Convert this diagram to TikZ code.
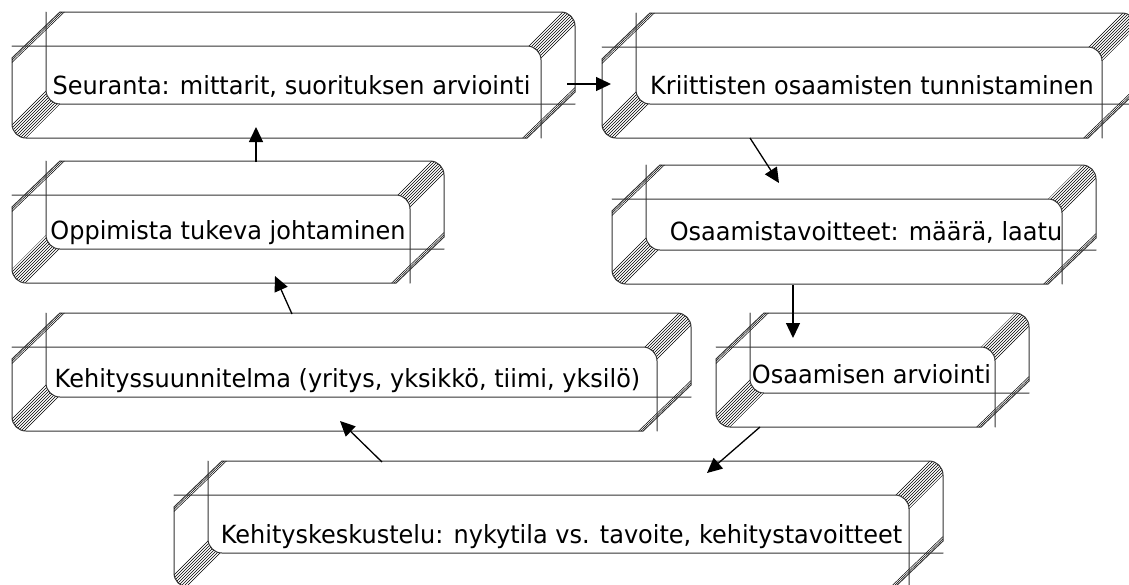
\documentclass[tikz,border=0pt]{standalone}
\usepackage{fontspec}
\setmainfont{DejaVu Sans}[FakeStretch=0.96]
\usetikzlibrary{calc,fit,patterns,arrows.meta}
\tikzset{
  edge/.style={draw=black!80, line width=1pt, line cap=round, line join=round},
  hatch/.style={pattern=north east lines, pattern color=black},
  area/.style={inner sep=0pt, outer sep=0pt, draw=none},
  lbl/.style={anchor=base, inner sep=0pt, font=\fontsize{25}{30}\selectfont, text=black},
  arr/.style={draw=black, line width=1.3pt, -{Triangle[length=15pt,width=14pt]}},
  chline/.style={draw=black, line width=0.5pt},
}
\newcommand{\bevel}[7]{%
  \node[area, fit={(#2,#3) (#4,#5)}] (#1) {};
  \fill[hatch] ({#4-14},{#3}) .. controls ({#4-6.3},{#3}) and ({#4},{#3+6.3}) .. ({#4},{#3+14})
     -- ({#4+34},{#3-20}) .. controls ({#4+34},{#3-27.7}) and ({#4+27.7},{#3-34}) .. ({#4+20},{#3-34}) -- cycle;
  \fill[hatch] ({#2},{#5-14}) .. controls ({#2},{#5-6.3}) and ({#2+6.3},{#5}) .. ({#2+14},{#5})
     -- ({#2-20},{#5+34}) .. controls ({#2-27.7},{#5+34}) and ({#2-34},{#5+27.7}) .. ({#2-34},{#5+20}) -- cycle;
  \draw[edge, rounded corners=14pt] ({#2+14},{#3-34}) -- ({#4+34},{#3-34}) -- ({#4+34},{#5-12});
  \draw[edge] ({#4+34},{#5-12}) -- ({#4-14},{#5+34});
  \draw[edge, rounded corners=14pt] ({#4-14},{#5+34}) -- ({#2-34},{#5+34}) -- ({#2-34},{#3+12});
  \draw[edge] ({#2-34},{#3+12}) -- ({#2+14},{#3-34});
  \draw[chline] ({#2-34},{#3+14.2}) -- ({#2+16.2},{#3-34});
  \draw[chline] ({#2-34},{#3+16.4}) -- ({#2+18.4},{#3-34});
  \draw[chline] ({#4+34},{#5-14.2}) -- ({#4-16.2},{#5+34});
  \draw[chline] ({#4+34},{#5-16.4}) -- ({#4-18.4},{#5+34});
  \draw[edge, rounded corners=14pt] ({#2-34},{#3}) -- ({#4},{#3}) -- ({#4},{#5+34});
  \draw[edge, rounded corners=14pt] ({#2},{#3-34}) -- ({#2},{#5}) -- ({#4+34},{#5});
  \node[lbl] (#1t) at ({(#2+#4)/2+#7},{#5-10}) {#6};
}
\begin{document}
\begin{tikzpicture}[x=1pt,y=-1pt]
\path[use as bounding box] (0,0) rectangle (1129,584);
\fill[white] (0,0) rectangle (1129,584);
\clip (0,0) rectangle (1129,584);
\bevel{A}{46}{46}{541}{104}{Seuranta: mittarit, suorituksen arviointi}{-2}
\bevel{B}{636}{47}{1102}{104}{Kriittisten osaamisten tunnistaminen}{3}
\bevel{C}{646}{199}{1062}{250}{Osaamistavoitteet: määrä, laatu}{12}
\bevel{G}{46}{195}{410}{249}{Oppimista tukeva johtaminen}{0}
\bevel{F}{46}{347}{657}{397}{Kehityssuunnitelma (yritys, yksikkö, tiimi, yksilö)}{-4}
\bevel{D}{750}{347}{995}{393}{Osaamisen arviointi}{-1}
\bevel{E}{208}{495}{909}{553}{Kehityskeskustelu: nykytila vs. tavoite, kehitystavoitteet}{3}
\draw[arr] ($(A.east)+(26,9)$) -- ($(B.west)+(-25,8.5)$);
\draw[arr] ($(B.south)+(-119,34)$) -- ($(C.north)+(-75,-16)$);
\draw[arr] ($(C.south)+(-61,35)$) -- ($(D.north)+(-79.5,-9)$);
\draw[arr] ($(D.south)+(-112.5,34)$) -- ($(E.north)+(148.5,-22)$);
\draw[arr] ($(E.north)+(-176.5,-33)$) -- ($(F.south)+(-11.5,24)$);
\draw[arr] ($(F.north)+(-59.5,-33)$) -- ($(G.south)+(47,27)$);
\draw[arr] ($(G.north)+(28,-33)$) -- ($(A.south)+(-37.5,23)$);
\end{tikzpicture}
\end{document}
